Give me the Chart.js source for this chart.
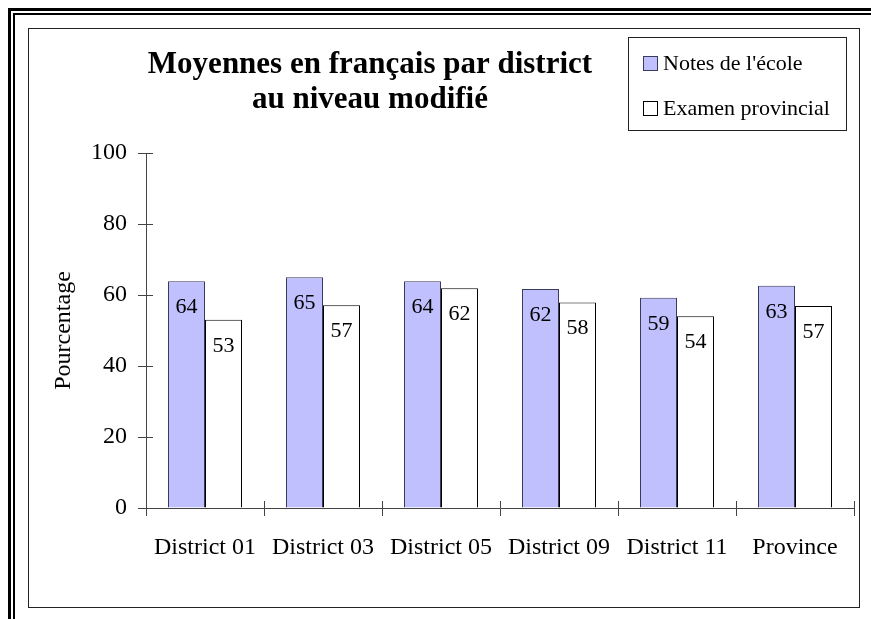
<!DOCTYPE html>
<html lang="fr">
<head>
<meta charset="utf-8">
<title>Moyennes en français par district</title>
<script src="https://cdn.jsdelivr.net/npm/chart.js@4.4.1/dist/chart.umd.min.js"></script>
<style>
  html, body { margin: 0; padding: 0; background: #fff; overflow: hidden; }
  body { width: 871px; height: 619px; position: relative; }
  .frame1 { position: absolute; left: 8px; top: 8px; width: 1000px; height: 1000px; border: 3px solid #000; }
  .frame2 { position: absolute; left: 13px; top: 13px; width: 1000px; height: 1000px; border: 2px solid #000; }
  .box { position: absolute; left: 28px; top: 28px; width: 830px; height: 578px; border: 1px solid #222; background: #fff; }
  canvas { display: block; }
</style>
</head>
<body>
<div class="frame1"></div>
<div class="frame2"></div>
<div class="box"><canvas id="chart" width="830" height="578"></canvas></div>
<script>
const categories = ["District 01", "District 03", "District 05", "District 09", "District 11", "Province"];
const ecoleValues = [63.9, 65.0, 63.9, 61.7, 59.2, 62.6];
const examenValues = [53.0, 57.1, 61.9, 57.9, 54.0, 56.9];
const seriesNames = ["Notes de l'école", "Examen provincial"];
const titleLines = ["Moyennes en français par district", "au niveau modifié"];
const yTicks = [0, 20, 40, 60, 80, 100];
const yTitle = "Pourcentage";

const serif = '"Liberation Serif", "Times New Roman", serif';
const axisColor = "#444";

// title sits left of the legend, not centred on the canvas
const titlePlugin = {
  id: "sideTitle",
  afterDraw(chart) {
    const ctx = chart.ctx;
    ctx.save();
    ctx.font = "bold 31px " + serif;
    ctx.fillStyle = "#000";
    ctx.textAlign = "center";
    ctx.textBaseline = "alphabetic";
    titleLines.forEach((line, i) => ctx.fillText(line, 341, 44 + i * 35));
    ctx.restore();
  },
};

// boxed legend in the top right corner
const boxLegendPlugin = {
  id: "boxLegend",
  afterDraw(chart) {
    const ctx = chart.ctx;
    const left = 599, top = 8, width = 218, height = 93;
    ctx.save();
    ctx.strokeStyle = "#222";
    ctx.lineWidth = 1;
    ctx.strokeRect(left + 0.5, top + 0.5, width, height);
    ctx.font = "22px " + serif;
    ctx.textBaseline = "middle";
    ctx.textAlign = "left";
    chart.data.datasets.forEach((ds, i) => {
      const cy = top + 26 + i * 45;
      ctx.fillStyle = ds.backgroundColor;
      ctx.fillRect(left + 15, cy - 7, 15, 15);
      ctx.strokeStyle = ds.borderColor;
      ctx.strokeRect(left + 15.5, cy - 6.5, 14, 14);
      ctx.fillStyle = "#000";
      ctx.fillText(ds.label, left + 35, cy + 1);
    });
    ctx.restore();
  },
};

// rounded value printed inside the top of each bar
const valueLabelPlugin = {
  id: "valueLabels",
  afterDatasetsDraw(chart) {
    const ctx = chart.ctx;
    ctx.save();
    ctx.font = "22px " + serif;
    ctx.fillStyle = "#000";
    ctx.textAlign = "center";
    ctx.textBaseline = "middle";
    chart.data.datasets.forEach((ds, di) => {
      chart.getDatasetMeta(di).data.forEach((bar, i) => {
        ctx.fillText(String(Math.round(ds.data[i])), bar.x, bar.y + 26);
      });
    });
    ctx.restore();
  },
};

// tick marks cross the axis: add the inner half
const innerTickPlugin = {
  id: "innerTicks",
  beforeDatasetsDraw(chart) {
    const { ctx, scales: { x, y } } = chart;
    ctx.save();
    ctx.strokeStyle = axisColor;
    ctx.lineWidth = 1;
    ctx.beginPath();
    for (let i = 0; i <= categories.length; i++) {
      const px = Math.round(x.getPixelForValue(i - 0.5)) + 0.5;
      ctx.moveTo(px, y.bottom - 7);
      ctx.lineTo(px, y.bottom);
    }
    y.ticks.forEach((t) => {
      const py = Math.round(y.getPixelForValue(t.value)) + 0.5;
      ctx.moveTo(x.left, py);
      ctx.lineTo(x.left + 7, py);
    });
    ctx.stroke();
    ctx.restore();
  },
};

new Chart(document.getElementById("chart"), {
  type: "bar",
  data: {
    labels: categories,
    datasets: [
      { label: seriesNames[0], data: ecoleValues, backgroundColor: "#c0c0ff", borderColor: "#3a3a5a", borderWidth: 1 },
      { label: seriesNames[1], data: examenValues, backgroundColor: "#ffffff", borderColor: "#000000", borderWidth: 1 },
    ],
  },
  options: {
    responsive: false,
    animation: false,
    devicePixelRatio: 1,
    layout: { padding: { left: 10, right: 5, top: 124, bottom: 40 } },
    datasets: { bar: { categoryPercentage: 0.627, barPercentage: 1 } },
    plugins: {
      legend: { display: false },
      title: { display: false },
      tooltip: { enabled: false },
    },
    scales: {
      x: {
        grid: { display: true, drawOnChartArea: false, drawTicks: true, tickLength: 8, color: axisColor, offset: true },
        border: { color: axisColor, width: 1 },
        ticks: { color: "#000", font: { family: serif, size: 24 }, padding: 17, maxRotation: 0, autoSkip: false },
        afterFit: (s) => { s.height = 59; },
      },
      y: {
        min: 0,
        max: 100,
        afterBuildTicks: (s) => { s.ticks = yTicks.map((v) => ({ value: v })); },
        grid: { drawOnChartArea: false, drawTicks: true, tickLength: 8, color: axisColor },
        border: { color: axisColor, width: 1 },
        ticks: { color: "#000", font: { family: serif, size: 24 }, padding: 11 },
        title: { display: true, text: yTitle, color: "#000", font: { family: serif, size: 24 }, padding: { top: 10, bottom: 0 } },
        afterFit: (s) => { s.width = 107; },
      },
    },
  },
  plugins: [innerTickPlugin, valueLabelPlugin, titlePlugin, boxLegendPlugin],
});
</script>
</body>
</html>
